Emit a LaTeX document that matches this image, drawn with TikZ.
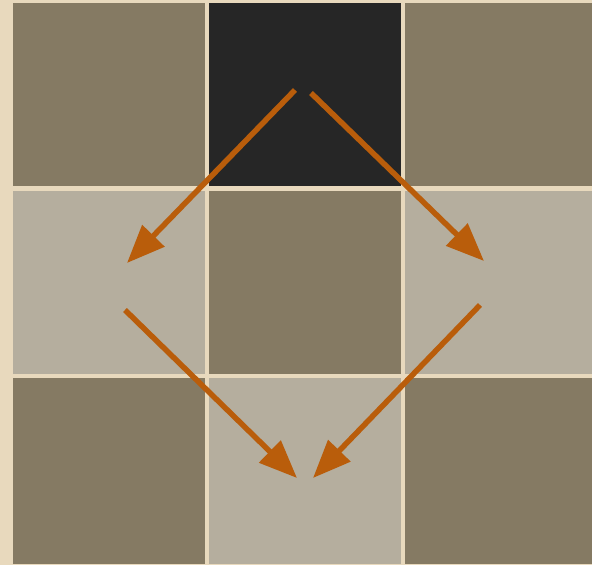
\documentclass[tikz,border=0pt]{standalone}
\usepackage{xcolor}
\usepackage{tikz}
\usetikzlibrary{arrows.meta}
\definecolor{mybeige}{RGB}{232,217,189}
\definecolor{mydark}{RGB}{133,122,99}
\definecolor{mylight}{RGB}{181,174,158}
\definecolor{myblack}{RGB}{38,38,38}
\definecolor{myorange}{RGB}{185,93,11}
\tikzset{
  cell/.style={rectangle, draw=none, inner sep=0pt,
    minimum width=191.5pt, minimum height=183pt},
  darkcell/.style={cell, fill=mydark},
  lightcell/.style={cell, fill=mylight},
  blackcell/.style={cell, fill=myblack},
  arrow/.style={-{Triangle[length=38pt, width=30pt]}, line width=5.5pt, color=myorange}
}

\begin{document}
\begin{tikzpicture}[x=1pt, y=-1pt]
\useasboundingbox (0,0) rectangle (592,565);
\fill[mybeige] (0,0) rectangle (592,565);
% grid
\node[darkcell]  (c11) at (109,94.5) {};
\node[blackcell] (c12) at (304.75,94.5) {};
\node[darkcell]  (c13) at (500.5,94.5) {};
\node[lightcell] (c21) at (109,282) {};
\node[darkcell]  (c22) at (304.75,282) {};
\node[lightcell] (c23) at (500.5,282) {};
\node[darkcell,minimum height=186pt]  (c31) at (109,471) {};
\node[lightcell,minimum height=186pt] (c32) at (304.75,471) {};
\node[darkcell,minimum height=186pt]  (c33) at (500.5,471) {};
% moves
\draw[arrow] ([shift={(-9.75,-4.5)}]c12.center) -- ([shift={(18,-19)}]c21.center);
\draw[arrow] ([shift={(6.25,-1.5)}]c12.center) -- ([shift={(-16.5,-21)}]c23.center);
\draw[arrow] ([shift={(16,28)}]c21.center) -- ([shift={(-7.75,7)}]c32.center);
\draw[arrow] ([shift={(-20.5,23)}]c23.center) -- ([shift={(8.25,7)}]c32.center);
\end{tikzpicture}
\end{document}
